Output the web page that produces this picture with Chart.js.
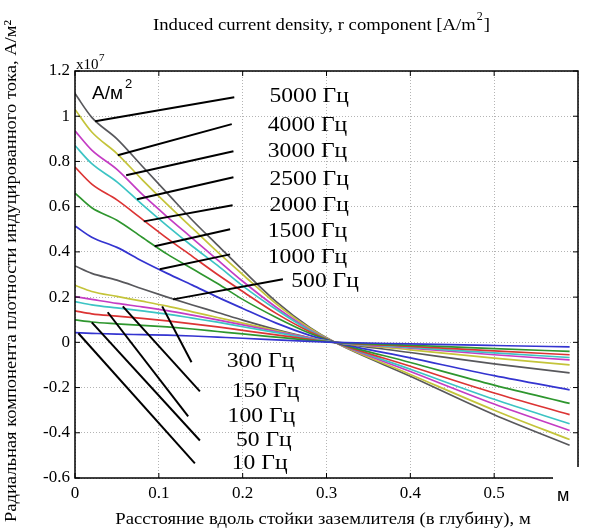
<!DOCTYPE html>
<html>
<head>
<meta charset="utf-8">
<script src="https://cdn.jsdelivr.net/npm/chart.js@4/dist/chart.umd.min.js"></script>
<style>
  html, body { margin: 0; padding: 0; background: #fff; }
</style>
</head>
<body>
<canvas id="myChart" width="589" height="532"></canvas>
<script>
"use strict";
// distance along the electrode (depth), m
const depth = [0, 0.02, 0.05, 0.08, 0.11, 0.14, 0.17, 0.20, 0.24, 0.28, 0.31, 0.40, 0.50, 0.59];

// radial current density, x1e7 A/m^2
const j5000 = [1.10, 0.995, 0.90, 0.78, 0.66, 0.54, 0.43, 0.32, 0.18, 0.066, 0, -0.15, -0.32, -0.455];
const j4000 = [1.03, 0.93, 0.835, 0.72, 0.61, 0.505, 0.40, 0.30, 0.17, 0.062, 0, -0.142, -0.30, -0.43];
const j3000 = [0.935, 0.85, 0.765, 0.655, 0.555, 0.46, 0.365, 0.27, 0.155, 0.056, 0, -0.129, -0.273, -0.39];
const j2500 = [0.87, 0.79, 0.71, 0.61, 0.515, 0.425, 0.34, 0.25, 0.145, 0.052, 0, -0.119, -0.252, -0.36];
const j2000 = [0.775, 0.70, 0.63, 0.545, 0.46, 0.38, 0.30, 0.225, 0.128, 0.047, 0, -0.106, -0.224, -0.32];
const j1500 = [0.66, 0.595, 0.54, 0.465, 0.39, 0.325, 0.26, 0.19, 0.11, 0.04, 0, -0.089, -0.189, -0.27];
const j1000 = [0.515, 0.465, 0.42, 0.36, 0.305, 0.253, 0.20, 0.15, 0.085, 0.031, 0, -0.069, -0.147, -0.21];
const j500 = [0.338, 0.305, 0.275, 0.237, 0.20, 0.165, 0.132, 0.098, 0.056, 0.02, 0, -0.045, -0.095, -0.135];
const j300 = [0.252, 0.225, 0.203, 0.182, 0.16, 0.135, 0.11, 0.085, 0.052, 0.02, 0, -0.033, -0.07, -0.10];
const j150 = [0.202, 0.19, 0.172, 0.157, 0.14, 0.12, 0.099, 0.077, 0.048, 0.019, 0, -0.026, -0.055, -0.078];
const jCyan = [0.18, 0.166, 0.152, 0.139, 0.125, 0.107, 0.089, 0.069, 0.043, 0.017, 0, -0.022, -0.047, -0.067];
const j100 = [0.139, 0.126, 0.116, 0.106, 0.095, 0.082, 0.068, 0.053, 0.033, 0.013, 0, -0.018, -0.038, -0.055];
const j50 = [0.099, 0.09, 0.082, 0.075, 0.068, 0.059, 0.048, 0.037, 0.023, 0.009, 0, -0.013, -0.028, -0.04];
const j10 = [0.043, 0.04, 0.036, 0.034, 0.032, 0.028, 0.023, 0.018, 0.011, 0.004, 0, -0.007, -0.014, -0.02];

const curves = [j5000, j4000, j3000, j2500, j2000, j1500, j1000, j500, j300, j150, jCyan, j100, j50, j10];
const curveNames = ["5000 Гц", "4000 Гц", "3000 Гц", "2500 Гц", "2000 Гц", "1500 Гц", "1000 Гц",
                    "500 Гц", "300 Гц", "150 Гц", "", "100 Гц", "50 Гц", "10 Гц"];
// matlab colour order, drawn top to bottom
const curveColors = ["#58585c", "#c4c43a", "#c43cc4", "#3cc4c4", "#dc3434", "#2e962e", "#3434d0",
                     "#58585c", "#c4c43a", "#c43cc4", "#3cc4c4", "#dc3434", "#2e962e", "#3434d0"];

const xTicks = [0, 0.1, 0.2, 0.3, 0.4, 0.5];
const yTicks = [-0.6, -0.4, -0.2, 0, 0.2, 0.4, 0.6, 0.8, 1, 1.2];

// callout labels: text, label anchor (x, y) and the point on the curve it points to
const callouts = [
  ["5000 Гц", 0.232, 1.084, 0.190, 1.084, 0.024, 0.978],
  ["4000 Гц", 0.230, 0.960, 0.187, 0.965, 0.051, 0.827],
  ["3000 Гц", 0.230, 0.845, 0.189, 0.845, 0.061, 0.739],
  ["2500 Гц", 0.232, 0.721, 0.189, 0.730, 0.074, 0.633],
  ["2000 Гц", 0.232, 0.602, 0.188, 0.606, 0.082, 0.535],
  ["1500 Гц", 0.230, 0.491, 0.185, 0.500, 0.095, 0.425],
  ["1000 Гц", 0.230, 0.376, 0.185, 0.389, 0.101, 0.323],
  ["500 Гц", 0.258, 0.270, 0.248, 0.279, 0.117, 0.190],
  ["300 Гц", 0.181, -0.088, 0.139, -0.088, 0.104, 0.159],
  ["150 Гц", 0.187, -0.217, 0.149, -0.217, 0.057, 0.159],
  ["100 Гц", 0.182, -0.327, 0.135, -0.327, 0.039, 0.133],
  ["50 Гц", 0.192, -0.434, 0.149, -0.434, 0.020, 0.088],
  ["10 Гц", 0.187, -0.535, 0.143, -0.535, 0.004, 0.040]
];

const datasets = curves.map((vals, i) => ({
  label: curveNames[i],
  data: vals.map((v, k) => ({ x: depth[k], y: v })),
  borderColor: curveColors[i],
  borderWidth: 1.7,
  pointRadius: 0,
  fill: false,
  cubicInterpolationMode: "monotone"
})).reverse();

const serif = "'Liberation Serif', 'Times New Roman', serif";
const sans = "'Liberation Sans', Arial, sans-serif";

// the scanned figure is a bit wider than it is tall, so text is stretched
function wideText(ctx, text, x, y, sx, align) {
  ctx.save();
  ctx.translate(x, y);
  ctx.scale(sx, 1);
  ctx.textAlign = align || "left";
  ctx.fillText(text, 0, 0);
  ctx.restore();
}

const overlay = {
  id: "overlay",
  afterDraw(chart) {
    const { ctx, chartArea: a, scales: { x, y } } = chart;
    ctx.save();
    // box + inward ticks
    ctx.strokeStyle = "#000";
    ctx.lineWidth = 1.5;
    ctx.strokeRect(a.left, a.top, a.right - a.left, a.bottom - a.top);
    ctx.lineWidth = 1;
    ctx.beginPath();
    xTicks.forEach(v => {
      const px = x.getPixelForValue(v);
      ctx.moveTo(px, a.bottom); ctx.lineTo(px, a.bottom - 5);
      ctx.moveTo(px, a.top); ctx.lineTo(px, a.top + 5);
    });
    yTicks.forEach(v => {
      const py = y.getPixelForValue(v);
      ctx.moveTo(a.left, py); ctx.lineTo(a.left + 5, py);
      ctx.moveTo(a.right, py); ctx.lineTo(a.right - 5, py);
    });
    ctx.stroke();

    // callout lines and labels
    ctx.lineWidth = 2;
    ctx.fillStyle = "#000";
    ctx.font = "20px " + serif;
    ctx.textBaseline = "middle";
    callouts.forEach(c => {
      ctx.beginPath();
      ctx.moveTo(x.getPixelForValue(c[3]), y.getPixelForValue(c[4]));
      ctx.lineTo(x.getPixelForValue(c[5]), y.getPixelForValue(c[6]));
      ctx.stroke();
      wideText(ctx, c[0], x.getPixelForValue(c[1]), y.getPixelForValue(c[2]), 1.18);
    });

    // white patch over the last x label, with the unit
    ctx.fillStyle = "#fff";
    ctx.fillRect(553, 467, 36, 65);
    ctx.fillStyle = "#000";
    ctx.font = "18px " + sans;
    ctx.fillText("м", 557, 496);

    // axis titles
    ctx.font = "17px " + serif;
    wideText(ctx, "Расстояние вдоль стойки заземлителя (в глубину), м", 323, 520, 1.1, "center");
    ctx.save();
    ctx.translate(12, 271);
    ctx.rotate(-Math.PI / 2);
    wideText(ctx, "Радиальная компонента плотности индуцированного тока, А/м²", 0, 0, 1.09, "center");
    ctx.restore();

    // unit inside the plot
    ctx.font = "19px " + sans;
    ctx.textBaseline = "alphabetic";
    ctx.fillText("А/м", a.left + 17, a.top + 28);
    ctx.font = "13px " + sans;
    ctx.fillText("2", a.left + 50, a.top + 17);

    // exponent
    ctx.font = "15px " + serif;
    ctx.fillText("x10", a.left + 1, a.top - 2);
    ctx.font = "11px " + serif;
    ctx.fillText("7", a.left + 24, a.top - 10);

    // title
    ctx.font = "17px " + serif;
    const t = "Induced current density, r component [A/m";
    const tw = ctx.measureText(t).width * 1.1;
    const tx = 153;
    wideText(ctx, t, tx, 30, 1.1);
    ctx.font = "12px " + serif;
    ctx.fillText("2", tx + tw + 1, 20);
    ctx.font = "17px " + serif;
    wideText(ctx, "]", tx + tw + 8, 30, 1.1);
    ctx.restore();
  }
};

const config = {
  type: "line",
  data: { datasets: datasets },
  options: {
    responsive: false,
    animation: false,
    devicePixelRatio: 1,
    layout: { padding: { top: 71, right: 11, left: 0, bottom: 0 } },
    plugins: { legend: { display: false }, title: { display: false }, tooltip: { enabled: false } },
    scales: {
      x: {
        type: "linear",
        min: 0,
        max: 0.6,
        afterFit: s => { s.height = 54; },
        afterBuildTicks: s => { s.ticks = xTicks.concat([0.6]).map(v => ({ value: v })); },
        ticks: {
          color: "#000",
          font: { family: serif, size: 17 },
          padding: 5,
          maxRotation: 0,
          callback: v => (v > 0.55 ? "" : String(+v.toFixed(1)))
        },
        grid: { color: "#b4b4b4", lineWidth: 1, drawTicks: false },
        border: { display: false, dash: [1, 2] },
        title: { display: false }
      },
      y: {
        type: "linear",
        min: -0.6,
        max: 1.2,
        afterFit: s => { s.width = 75; },
        afterBuildTicks: s => { s.ticks = yTicks.map(v => ({ value: v })); },
        ticks: {
          color: "#000",
          font: { family: serif, size: 17 },
          padding: 5,
          callback: v => String(+v.toFixed(1))
        },
        grid: { color: "#b4b4b4", lineWidth: 1, drawTicks: false },
        border: { display: false, dash: [1, 2] },
        title: { display: false }
      }
    }
  },
  plugins: [overlay]
};

const myChart = new Chart(document.getElementById("myChart"), config);
</script>
</body>
</html>
